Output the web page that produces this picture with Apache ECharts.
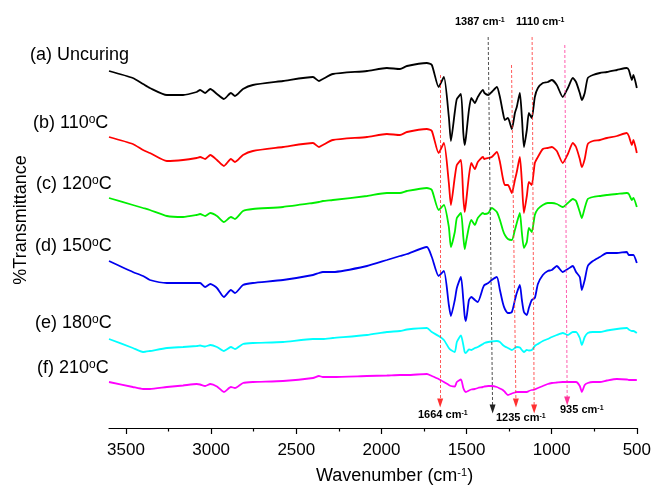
<!DOCTYPE html>
<html>
<head>
<meta charset="utf-8">
<script src="https://cdn.jsdelivr.net/npm/echarts@6/dist/echarts.min.js"></script>
<style>
html,body{margin:0;padding:0;background:#fff;}
#chart{width:654px;height:487px;}
</style>
</head>
<body>
<div id="chart"></div>
<script>
// Wavenumbers (cm-1) sampled along the spectra
var wavenumbers = [3600,3460,3400,3360,3260,3165,3085,3065,3035,3005,2966,2925,2884,2860,2813,2755,2578,2402,2367,2344,2285,2085,1968,1891,1850,1733,1704,1664,1633,1604,1592,1569,1557,1533,1519,1511,1504,1486,1472,1451,1434,1404,1395,1372,1352,1322,1304,1287,1275,1257,1234,1216,1205,1187,1175,1163,1146,1134,1117,1099,1081,1052,1023,999,970,935,905,876,857,835,823,806,788,758,717,676,617,559,547,529,520,500];

// %Transmittance (stacked, arbitrary units)
var uncuring = [357,350,344,340,333,333,336,338,335,339,334,329,335,332,339,343,347,351,347,349,354,357,360,359,362,365,363,341,351,311,287,316,329,334,295,283,290,318,330,325,331,338,335,333,336,341,331,316,308,310,299,315,321,335,311,281,298,315,310,331,340,345,346,348,343,331,340,350,346,335,328,335,350,353,355,356,358,360,358,348,353,340];
var cure110 = [291,284,278,275,267,268,270,271,269,273,268,262,269,266,273,277,281,285,281,283,288,291,294,293,296,299,297,275,285,245,223,251,263,268,230,216,224,252,265,259,266,271,269,270,271,276,266,250,243,243,235,248,256,271,246,215,232,246,243,265,271,279,280,281,277,265,274,285,281,269,261,269,284,287,288,290,292,295,292,283,288,275];
var cure120 = [230,223,220,218,212,211,213,214,212,215,212,206,211,209,217,219,221,225,226,227,228,232,235,235,237,240,238,218,223,201,181,196,210,215,191,179,185,201,208,203,210,215,214,215,220,216,208,198,193,189,188,198,205,215,195,180,186,200,196,213,219,223,225,225,224,221,225,229,227,216,210,220,229,231,232,233,234,235,234,228,230,221];
var cure150 = [167,156,152,148,145,145,145,145,141,144,140,131,138,135,143,145,148,153,155,156,156,162,168,172,174,181,171,152,157,123,112,128,140,151,128,112,107,128,131,128,126,140,143,145,148,151,138,125,119,115,116,128,135,143,128,116,113,120,128,130,144,153,157,158,162,156,159,162,156,151,138,148,162,167,171,175,175,176,173,173,173,165];
var cure180 = [89,80,76,77,80,81,82,82.5,81.5,83,81,77,81,79,84,85,86,89,89,89,90,93,96,97,98.5,100,96,92,88,80,78,76,86,92.5,83,76,75,78.5,78,80,81,84,85,86,86.5,87,86,83,81.5,80,78,80,81,80.5,78,76,78,77.5,78,82,84,87,89,91,93,95,93,96,96,90,83,91,95,96,96,97.5,99,100,98.5,97,97,95];
var cure210 = [46,41,39,39,41,42.5,44,43.5,42,44,41.5,36,41,40,45,46,47,50,52,51,51,52,52.5,53,53,54,52,49,46,43,42,41.5,46,48.5,40,37,36,37.5,38.5,39,40,41,41.5,42,42,41,39.5,38,36,33,34.5,35.5,36,36,36,36,36,37,38,38.5,40,42,44,45,45.5,46,46,46,46,42,36,43,45,46,46,47.5,49,48.5,48,48,48,48];

var seriesNames = ['(a) Uncuring','(b) 110°C','(c) 120°C','(d) 150°C','(e) 180°C','(f) 210°C'];
var seriesColors = ['#000000','#ff0000','#00ee00','#0000ee','#00ffff','#ff00ff'];
var seriesValues = [uncuring, cure110, cure120, cure150, cure180, cure210];

// Axis ticks
var majorTicks = [500,1000,1500,2000,2500,3000,3500];
var minorTicks = [750,1250,1750,2250,2750,3250];

// Peak markers: label, dashed line top/bottom (wavenumber, transmittance)
var peakLabels = ['1664','1387','1235','1110','935'];
var peakTopWn = [1655,1373,1236,1115,923];
var peakBottomWn = [1655,1347,1210,1103,909];
var peakTopT = [353,391,363,391,383];
var peakBottomT = [25,19,25,19,27];
var peakColors = ['#ff3030','#222222','#ff3030','#ff3030','#ff3399'];

var FONT = '"Liberation Sans", Arial, Helvetica, sans-serif';

var chart = echarts.init(document.getElementById('chart'), null, {renderer:'canvas'});

var series = seriesValues.map(function(vals, k){
  return {
    name: seriesNames[k],
    type: 'line',
    data: wavenumbers.map(function(w, i){ return [w, vals[i]]; }),
    showSymbol: false,
    smooth: 0.2,
    lineStyle: {color: seriesColors[k], width: 1.8},
    itemStyle: {color: seriesColors[k]},
    z: 3,
    silent: true
  };
});

series.push({
  type: 'line',
  data: [],
  silent: true,
  z: 2,
  markLine: {
    silent: true,
    animation: false,
    symbol: ['none','triangle'],
    symbolSize: [6, 9],
    label: {show: false},
    data: peakLabels.map(function(lbl, i){
      return [
        {coord: [peakTopWn[i], peakTopT[i]], lineStyle: {color: peakColors[i], type: [3,2], width: 0.8}, itemStyle: {color: peakColors[i]}},
        {coord: [peakBottomWn[i], peakBottomT[i]]}
      ];
    })
  }
});

function txt(text, x, y, size, weight, supSize, supLH, align, rot) {
  return {
    type: 'text', x: x, y: y, silent: true, rotation: rot || 0,
    style: {
      text: text, fill: '#000', fontSize: size, fontWeight: weight, fontFamily: FONT,
      align: align || 'left', verticalAlign: 'middle',
      rich: {
        s: {fontSize: supSize, fontWeight: weight, fontFamily: FONT, fill: '#000', verticalAlign: 'top', lineHeight: supLH}
      }
    }
  };
}

var labelPos = [[30,55],[33,123],[36,184],[35,246],[35,323],[37,368]];
var graphics = seriesNames.map(function(n, k){
  return txt(n.replace('°C','{s|o}C'), labelPos[k][0], labelPos[k][1], 18, 'normal', 12, 4);
});
var peakLabelPos = [[418,415],[455,22],[496,418],[516,22],[560,410]];
peakLabels.forEach(function(p, i){
  graphics.push(txt(p + ' cm{s|-1}', peakLabelPos[i][0], peakLabelPos[i][1], 11, 'bold', 7, 2));
});
graphics.push(txt('Wavenumber (cm{s|-1})', 316, 476, 18, 'normal', 11, 4));
graphics.push(txt('%Transmittance', 21, 220, 18, 'normal', 11, 4, 'center', Math.PI/2));

var option = {
  animation: false,
  backgroundColor: '#ffffff',
  grid: {left: 109, right: 17, top: 0, bottom: 59, containLabel: false},
  xAxis: [{
    type: 'value', min: 500, max: 3600, interval: 500, inverse: true,
    axisLine: {show: true, lineStyle: {color: '#000', width: 1.2}},
    axisTick: {show: true, length: 6, customValues: majorTicks, lineStyle: {color: '#000', width: 1.2}},
    axisLabel: {show: true, customValues: majorTicks, fontSize: 17, color: '#000', fontFamily: FONT, margin: 14,
      formatter: function(v){ return String(v); }},
    splitLine: {show: false}
  }, {
    type: 'value', min: 500, max: 3600, interval: 500, inverse: true, position: 'bottom',
    axisLine: {show: false},
    axisTick: {show: true, length: 3.5, customValues: minorTicks, lineStyle: {color: '#000', width: 1.2}},
    axisLabel: {show: false},
    splitLine: {show: false}
  }],
  yAxis: {
    type: 'value', min: 0, max: 428, show: false
  },
  series: series,
  graphic: graphics
};
chart.setOption(option);
</script>
</body>
</html>
